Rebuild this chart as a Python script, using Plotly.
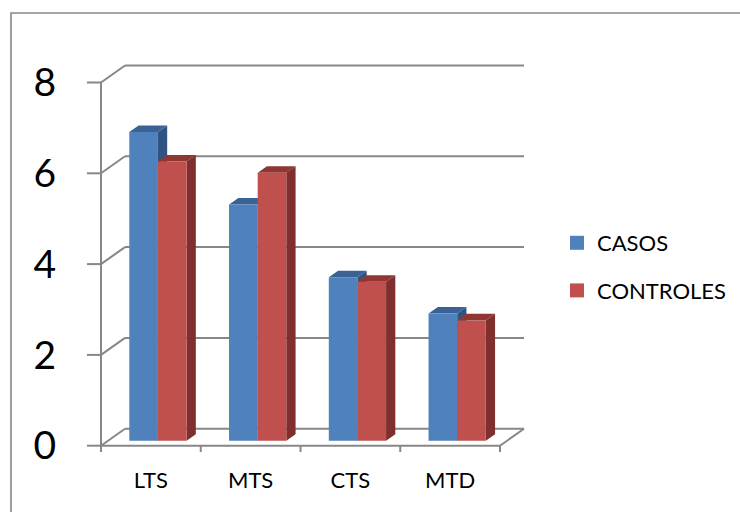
import plotly.graph_objects as go

# ---- data -------------------------------------------------------------
categories = ["LTS", "MTS", "CTS", "MTD"]
casos = [6.8, 5.2, 3.6, 2.8]
controles = [6.15, 5.9, 3.5, 2.65]
y_ticks = [0, 2, 4, 6, 8]
series_names = ["CASOS", "CONTROLES"]

# ---- geometry (pixels) --------------------------------------------------
W, H = 740, 512
PLOT_L, PLOT_R, PLOT_T, PLOT_B = 87, 530, 55, 452
X0_PX = 101.0          # front-left corner of the floor
Y0_PX = 445.7          # value 0 on the front plane
PX_PER_CAT = 99.75
PX_PER_UNIT = 45.4
DEPTH_PX = (24.0, 17.0)  # shift from the front plane to the back wall

DX = DEPTH_PX[0] / PX_PER_CAT
DY = DEPTH_PX[1] / PX_PER_UNIT

x_range = [(PLOT_L - X0_PX) / PX_PER_CAT, (PLOT_R - X0_PX) / PX_PER_CAT]
y_range = [(Y0_PX - PLOT_B) / PX_PER_UNIT, (Y0_PX - PLOT_T) / PX_PER_UNIT]


def px_to_paper(px, py):
    return ((px - PLOT_L) / (PLOT_R - PLOT_L), (PLOT_B - py) / (PLOT_B - PLOT_T))


def proj(x, v, d):
    """Oblique projection of a point (x, value, depth) onto the 2-D axes."""
    return x + d * DX, v + d * DY


# bar layout inside a category
BAR_OFFSET = 0.213
BAR_W = 0.287
D_FRONT, D_BACK = 0.294, 0.68

GRID = "#878787"
colors = {
    "CASOS": {"front": "#4F81BD", "top": "#3B6295", "side": "#2F5482"},
    "CONTROLES": {"front": "#C0504D", "top": "#903633", "side": "#7E2F2E"},
}

fig = go.Figure()

# ---- walls, floor and axis lines -----------------------------------------
lx, ly = [], []


def seg(p, q):
    lx.extend([p[0], q[0], None])
    ly.extend([p[1], q[1], None])


n = len(categories)
for v in y_ticks:
    seg(proj(0, v, 1), proj(n, v, 1))      # back wall gridline
    seg(proj(0, v, 0), proj(0, v, 1))      # side wall gridline
    seg(proj(-14 / PX_PER_CAT, v, 0), proj(0, v, 0))  # value tick mark
seg(proj(0, 0, 0), proj(n, 0, 0))          # front edge of the floor
seg(proj(n, 0, 0), proj(n, 0, 1))          # right edge of the floor
cat_tick = 6.5 / PX_PER_UNIT
seg(proj(0, -cat_tick, 0), proj(0, max(y_ticks), 0))  # value axis
for i in range(n + 1):
    seg(proj(i, 0, 0), proj(i, -cat_tick, 0))

fig.add_trace(go.Scatter(x=lx, y=ly, mode="lines",
                         line=dict(color=GRID, width=2),
                         hoverinfo="skip", showlegend=False))

# ---- 3-D columns ----------------------------------------------------------
for s, (name, values) in enumerate(zip(series_names, [casos, controles])):
    faces = {"side": ([], []), "top": ([], []), "front": ([], [])}
    for i, v in enumerate(values):
        x0 = i + BAR_OFFSET + s * BAR_W
        x1 = x0 + BAR_W
        polys = {
            "front": [(x0, 0, D_FRONT), (x1, 0, D_FRONT), (x1, v, D_FRONT), (x0, v, D_FRONT)],
            "side": [(x1, 0, D_FRONT), (x1, 0, D_BACK), (x1, v, D_BACK), (x1, v, D_FRONT)],
            "top": [(x0, v, D_FRONT), (x1, v, D_FRONT), (x1, v, D_BACK), (x0, v, D_BACK)],
        }
        for key, pts in polys.items():
            xs, ys = faces[key]
            for p in pts + [pts[0]]:
                px, py = proj(*p)
                xs.append(px)
                ys.append(py)
            xs.append(None)
            ys.append(None)
    for key in ["side", "top", "front"]:
        xs, ys = faces[key]
        fig.add_trace(go.Scatter(
            x=xs, y=ys, mode="lines", fill="toself",
            fillcolor=colors[name][key],
            line=dict(width=0, color=colors[name][key]),
            hoverinfo="skip", showlegend=False))

# legend entries
for name in series_names:
    fig.add_trace(go.Scatter(
        x=[None], y=[None], mode="markers", name=name, legendgroup=name,
        marker=dict(symbol="square", size=14, color=colors[name]["front"])))

# ---- chart border ------------------------------------------------------------
bx0, by0 = px_to_paper(11, 600)
bx1, by1 = px_to_paper(11, 13)
bx2, by2 = px_to_paper(800, 13)
border = dict(type="path", xref="paper", yref="paper",
              path=f"M {bx0} {by0} L {bx1} {by1} L {bx2} {by2}",
              line=dict(color="#888888", width=1.6))

leg_x, leg_y = px_to_paper(557, 267)

fig.update_layout(
    width=W, height=H,
    margin=dict(l=PLOT_L, r=W - PLOT_R, t=PLOT_T, b=H - PLOT_B, pad=0,
                autoexpand=False),
    paper_bgcolor="white", plot_bgcolor="white",
    font=dict(family="Lato, 'Liberation Sans', sans-serif", color="black"),
    shapes=[border],
    showlegend=True,
    legend=dict(x=leg_x, y=leg_y, xanchor="left", yanchor="middle",
                font=dict(size=22), tracegroupgap=16, traceorder="grouped",
                bgcolor="rgba(0,0,0,0)"),
    xaxis=dict(range=x_range, showgrid=False, zeroline=False, showline=False,
               tickmode="array", tickvals=[i + 0.5 for i in range(n)],
               ticktext=categories, ticks="", tickfont=dict(size=22),
               ticklabelstandoff=13, fixedrange=True),
    yaxis=dict(range=y_range, showgrid=False, zeroline=False, showline=False,
               tickmode="array", tickvals=y_ticks,
               ticktext=[str(t) for t in y_ticks], ticks="",
               tickfont=dict(size=39), ticklabelstandoff=30, fixedrange=True),
)

fig.write_html("out.html")
